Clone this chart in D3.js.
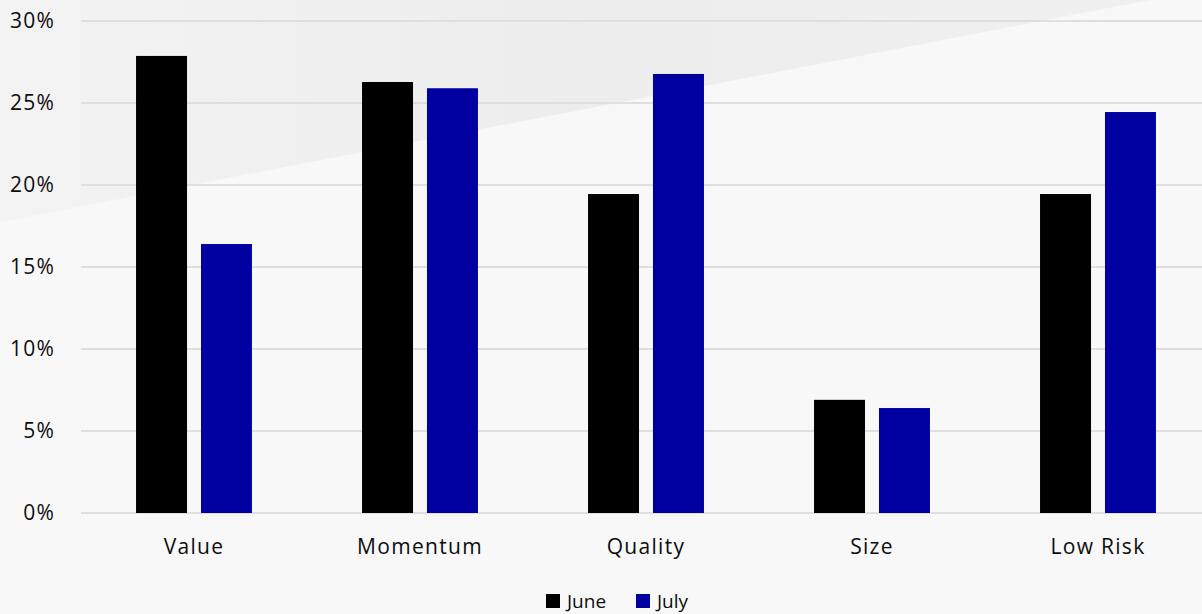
<!DOCTYPE html>
<html><head><meta charset="utf-8">
<script src="https://cdn.jsdelivr.net/npm/d3@7"></script>
<style>html,body{margin:0;padding:0;background:#f8f8f8;overflow:hidden}</style>
</head><body><div id="chart"></div>
<script>
const categories = ["Value","Momentum","Quality","Size","Low Risk"];
const seriesNames = ["June","July"];
const juneValues = [0.2787, 0.2628, 0.1945, 0.069, 0.1945];
const julyValues = [0.164, 0.259, 0.2677, 0.064, 0.2445];
const tickValues = [0,0.05,0.10,0.15,0.20,0.25,0.30];
const colors = ["#000000","#0000a0"];

const W=1202,H=614;
const svg=d3.select("#chart").append("svg").attr("width",W).attr("height",H);
const defs=svg.append("defs");
const g1=defs.append("linearGradient").attr("id","bgTop").attr("x1","0").attr("x2","1").attr("y1","0").attr("y2","0");
g1.append("stop").attr("offset","0").attr("stop-color","#f3f3f3");
g1.append("stop").attr("offset","0.5").attr("stop-color","#ededed");
g1.append("stop").attr("offset","1").attr("stop-color","#f0f0f0");
svg.append("rect").attr("width",W).attr("height",H).attr("fill","#f8f8f8");
svg.append("polygon").attr("points","0,0 1150,0 0,222").attr("fill","url(#bgTop)");
svg.append("polygon").attr("points","1010,30 1202,0 1202,240").attr("fill","#f9f9f9").attr("opacity",0.6);

const x=d3.scaleBand().domain(categories).range([81,1211]).paddingInner(0.487).paddingOuter(0.2435);
const xs=d3.scaleBand().domain(seriesNames).range([0,x.bandwidth()]).paddingInner(0.215);
const y=d3.scaleLinear().domain([0,0.30]).range([513,21]);

const font="'Open Sans', sans-serif";
const textColor="#0d0d0d";
// grid
svg.append("g").selectAll("line").data(tickValues).join("line")
  .attr("x1",81).attr("x2",W).attr("y1",d=>y(d)).attr("y2",d=>y(d))
  .attr("stroke","#d9d9d9").attr("stroke-width",1.5);
// y axis labels
const yAxis=d3.axisLeft(y).tickValues(tickValues).tickFormat(d3.format(".0%")).tickSize(0).tickPadding(0);
const ya=svg.append("g").attr("transform","translate(55,0)").call(yAxis);
ya.select(".domain").remove();
ya.selectAll("text").attr("font-family",font).attr("font-size",21).attr("fill",textColor).attr("letter-spacing","1.2px");

const data=categories.map((c,i)=>({cat:c,vals:[juneValues[i],julyValues[i]]}));
const grp=svg.append("g").selectAll("g").data(data).join("g").attr("transform",d=>`translate(${x(d.cat)},0)`);
grp.selectAll("rect").data(d=>d.vals.map((v,k)=>({k,v}))).join("rect")
  .attr("x",d=>xs(seriesNames[d.k])).attr("width",xs.bandwidth())
  .attr("y",d=>y(d.v)).attr("height",d=>y(0)-y(d.v)).attr("fill",d=>colors[d.k]);

// x axis labels
const xAxis=d3.axisBottom(x).tickSize(0).tickPadding(0);
const xa=svg.append("g").attr("transform","translate(0,539)").call(xAxis);
xa.select(".domain").remove();
xa.selectAll("text").attr("font-family",font).attr("font-size",21).attr("fill",textColor).attr("letter-spacing","1.3px").attr("dy","0.7em");

// legend
const legX=[546,636];
const leg=svg.append("g").selectAll("g").data(seriesNames).join("g").attr("transform",(d,i)=>`translate(${legX[i]},594)`);
leg.append("rect").attr("width",14).attr("height",14).attr("fill",(d,i)=>colors[i]);
leg.append("text").attr("x",21).attr("y",14).text(d=>d).attr("font-family",font).attr("font-size",19).attr("fill",textColor);
</script></body></html>
